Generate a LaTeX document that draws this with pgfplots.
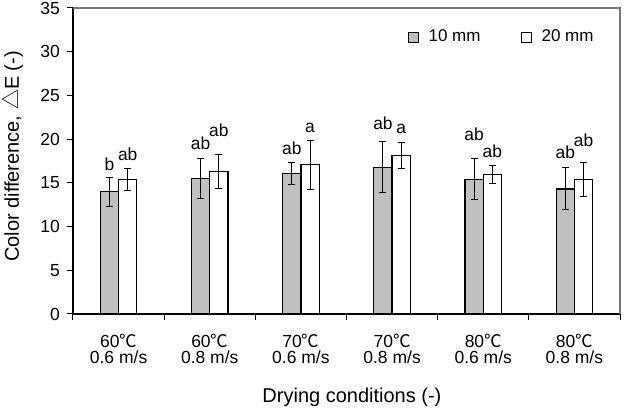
\documentclass[border=0pt]{standalone}
\usepackage{pgfplots}
\usepackage{pgfplotstable}
\pgfplotsset{compat=1.18}
\usepackage{fontspec}
\setmainfont{Liberation Sans}
\newfontfamily\cjk{Noto Sans CJK SC}

\definecolor{barGray}{RGB}{192,192,192}
\definecolor{frameGray}{RGB}{120,120,120}

% mean colour difference and standard deviation per drying condition
\pgfplotstableread{
x  g10    e10   g20    e20
1  13.97  1.63  15.38  1.28
2  15.53  2.27  16.27  1.93
3  16.08  1.22  17.08  2.82
4  16.80  2.90  18.10  1.50
5  15.42  2.38  15.92  1.05
6  14.30  2.40  15.42  1.93
}\colordiff

% significance letters (baseline positions)
\pgfplotstableread{
x    y      lab
0.9  16.47  b
1.1  17.60  ab
1.9  18.76  ab
2.1  20.28  ab
2.9  18.19  ab
3.1  20.78  a
3.9  21.10  ab
4.1  20.67  a
4.9  19.90  ab
5.1  17.92  ab
5.9  17.80  ab
6.1  19.14  ab
}\letters

\begin{document}
\begin{tikzpicture}
\path[use as bounding box] (-36.5pt,-48.5pt) rectangle (281.5pt,157pt);
\begin{axis}[
  scale only axis,
  width=273.5pt, height=153pt,
  xmin=0.5, xmax=6.5, ymin=0, ymax=35,
  ytick={0,5,...,35},
  xtick={1,...,6},
  xticklabels={
    {60{\cjk ℃}\\0.6 m/s},
    {60{\cjk ℃}\\0.8 m/s},
    {70{\cjk ℃}\\0.6 m/s},
    {70{\cjk ℃}\\0.8 m/s},
    {80{\cjk ℃}\\0.6 m/s},
    {80{\cjk ℃}\\0.8 m/s}},
  minor xtick={0.5,1.5,...,6.5},
  major x tick style={draw=none},
  tick align=outside,
  major tick length=3pt, minor tick length=3pt,
  tick style={black, line width=0.5pt},
  axis lines*=left,
  axis line style={black, line width=0.6pt},
  /pgf/number format/assume math mode=true,
  ticklabel style={font=\fontsize{8.75}{8}\selectfont},
  xticklabel style={align=center, yshift=-3.5pt},
  xlabel={Drying conditions (-)},
  ylabel={Color difference, {\cjk △}E (-)},
  label style={font=\fontsize{10}{12}\selectfont},
  xlabel style={at={(axis description cs:0.51,0)}, anchor=base, yshift=-44pt},
  ylabel style={at={([xshift=-27pt]axis description cs:0,0.515)}, anchor=base},
  legend columns=2,
  legend image code/.code={\draw[#1, line width=0.4pt] (0pt,-2.5pt) rectangle (5pt,2.5pt);
    \path (8pt,0pt);},
  legend style={draw=none, fill=none, at={(axis description cs:0.6,0.905)},
    anchor=west, font=\fontsize{8.5}{10}\selectfont,
    /tikz/every even column/.append style={column sep=18pt}},
  clip=false,
]
\addplot[ybar, bar width=0.2, bar shift=0, fill=barGray, draw=black,
  line width=0.6pt,
  error bars/.cd, y dir=both, y explicit,
  error bar style={line width=0.5pt, black},
  error mark options={rotate=90, line width=0.5pt, mark size=1.75pt, black}]
  table[x expr=\thisrow{x}-0.1, y=g10, y error=e10] {\colordiff};
\addlegendentry{10 mm}
\addplot[ybar, bar width=0.2, bar shift=0, fill=white, draw=black,
  line width=0.6pt,
  error bars/.cd, y dir=both, y explicit,
  error bar style={line width=0.5pt, black},
  error mark options={rotate=90, line width=0.5pt, mark size=1.75pt, black}]
  table[x expr=\thisrow{x}+0.1, y=g20, y error=e20] {\colordiff};
\addlegendentry{20 mm}
\addplot[ybar, bar width=0, bar shift=0, draw=none, fill=none, forget plot,
  nodes near coords, point meta=explicit symbolic,
  every node near coord/.append style={anchor=base, inner sep=0pt,
    font=\fontsize{8.7}{10}\selectfont, black}]
  table[x=x, y=y, meta=lab] {\letters};
\draw[frameGray, line width=0.6pt] (rel axis cs:0,1) -- (rel axis cs:1,1) -- (rel axis cs:1,0);
\end{axis}
\end{tikzpicture}
\end{document}
